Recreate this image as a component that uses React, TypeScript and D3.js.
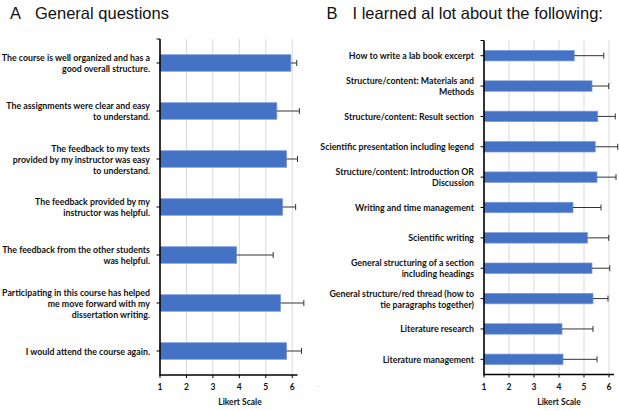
import React from "react";
import * as d3 from "d3";

// Panel A data
const categoriesA = [
  "The course is well organized and has a\ngood overall structure.",
  "The assignments were clear and easy\nto understand.",
  "The feedback to my texts\nprovided by my instructor was easy\nto understand.",
  "The feedback provided by my\ninstructor was helpful.",
  "The feedback from the other students\nwas helpful.",
  "Participating in this course has helped\nme move forward with my\ndissertation writing.",
  "I would attend the course again.",
];
const meansA = [5.95, 5.42, 5.79, 5.64, 3.9, 5.56, 5.79];
const sdA = [0.22, 0.85, 0.41, 0.49, 1.38, 0.88, 0.56];

// Panel B data
const categoriesB = [
  "How to write a lab book excerpt",
  "Structure/content: Materials and\nMethods",
  "Structure/content: Result section",
  "Scientific presentation including legend",
  "Structure/content: Introduction OR\nDiscussion",
  "Writing and time management",
  "Scientific writing",
  "General structuring of a section\nincluding headings",
  "General structure/red thread (how to\ntie paragraphs together)",
  "Literature research",
  "Literature management",
];
const meansB = [4.61, 5.32, 5.55, 5.45, 5.52, 4.56, 5.14, 5.32, 5.36, 4.12, 4.16];
const sdB = [1.18, 0.67, 0.7, 0.9, 0.76, 1.12, 0.85, 0.71, 0.6, 1.24, 1.36];

const xTicks = [1, 2, 3, 4, 5, 6];
const xDomain: [number, number] = [1, 6.2];
const titleA = "General questions";
const titleB = "I learned al lot about the following:";
const axisTitle = "Likert Scale";

const LABEL_FONT = "Lato, 'Open Sans', sans-serif";

type PanelProps = {
  cats: string[];
  means: number[];
  sds: number[];
  x0: number;
  x1: number;
  y0: number;
  y1: number;
  axisTitleX: number;
};

function Panel({ cats, means, sds, x0, x1, y0, y1, axisTitleX }: PanelProps) {
  const x = d3.scaleLinear().domain(xDomain).range([x0, x1]);
  const y = d3
    .scaleBand<number>()
    .domain(d3.range(cats.length))
    .range([y0, y1])
    .paddingInner(0.655)
    .paddingOuter(0.3275);
  const bw = y.bandwidth();
  const lineH = 11;
  return (
    <g>
      {xTicks.slice(1).map((t) => (
        <line key={"g" + t} x1={x(t)} x2={x(t)} y1={y0} y2={y1} stroke="#d9d9d9" strokeWidth={1} />
      ))}
      {cats.map((c, i) => {
        const cy = (y(i) as number) + bw / 2;
        const lines = c.split("\n");
        const start = cy - ((lines.length - 1) * lineH) / 2;
        return (
          <g key={"b" + i}>
            <rect
              x={x(1)}
              y={y(i)}
              width={x(means[i]) - x(1)}
              height={bw}
              fill="#4472C4"
              stroke="#7b9bd6"
              strokeWidth={0.7}
            />
            <line x1={x(means[i])} x2={x(means[i] + sds[i])} y1={cy} y2={cy} stroke="#333" strokeWidth={1} />
            <line
              x1={x(means[i] + sds[i])}
              x2={x(means[i] + sds[i])}
              y1={cy - 3}
              y2={cy + 3}
              stroke="#333"
              strokeWidth={1}
            />
            <line x1={x0 - 3.5} x2={x0} y1={cy} y2={cy} stroke="#000" strokeWidth={1} />
            <text
              x={x0 - 10}
              textAnchor="end"
              fontFamily={LABEL_FONT}
              fontWeight={700}
              fontSize={8.8}
              fill="#111"
            >
              {lines.map((l, j) => (
                <tspan key={j} x={x0 - 10} y={start + j * lineH} dominantBaseline="central">
                  {l}
                </tspan>
              ))}
            </text>
          </g>
        );
      })}
      <line x1={x0 - 3.5} x2={x0} y1={y0} y2={y0} stroke="#000" strokeWidth={1} />
      <line x1={x0} x2={x0} y1={y0} y2={y1 + 1} stroke="#000" strokeWidth={1.6} />
      <line x1={x0} x2={x1} y1={y1} y2={y1} stroke="#000" strokeWidth={1.6} />
      {xTicks.map((t) => (
        <g key={"t" + t}>
          <line x1={x(t)} x2={x(t)} y1={y1} y2={y1 + 3} stroke="#000" strokeWidth={1} />
          <text
            x={x(t)}
            y={y1 + 12}
            textAnchor="middle"
            dominantBaseline="central"
            fontFamily={LABEL_FONT}
            fontWeight={700}
            fontSize={8.5}
            fill="#111"
          >
            {t}
          </text>
        </g>
      ))}
      <text
        x={axisTitleX}
        y={y1 + 27}
        textAnchor="middle"
        dominantBaseline="central"
        fontFamily={LABEL_FONT}
        fontWeight={700}
        fontSize={8.5}
        fill="#111"
      >
        {axisTitle}
      </text>
    </g>
  );
}

export default function App() {
  return (
    <svg
      width={619}
      height={411}
      style={{ position: "absolute", left: 0, top: 0, background: "#fff" }}
    >
      <rect x={0} y={0} width={619} height={411} fill="#fff" />
      <text x={10} y={19} fontFamily="'Liberation Sans', Arial, sans-serif" fontSize={16.5} fill="#111">
        A
      </text>
      <text x={35} y={19} fontFamily="'Liberation Sans', Arial, sans-serif" fontSize={16.5} fill="#111">
        {titleA}
      </text>
      <text x={326.5} y={19} fontFamily="'Liberation Sans', Arial, sans-serif" fontSize={16.5} fill="#111">
        B
      </text>
      <text x={352.5} y={19} fontFamily="'Liberation Sans', Arial, sans-serif" fontSize={16.5} fill="#111">
        {titleB}
      </text>
      <Panel cats={categoriesA} means={meansA} sds={sdA} x0={160} x1={297.5} y0={39} y1={375} axisTitleX={240} />
      <Panel cats={categoriesB} means={meansB} sds={sdB} x0={484} x1={614} y0={40.5} y1={374.5} axisTitleX={559} />
      <text x={317} y={387} fontFamily="sans-serif" fontSize={7} fill="#888">
        .
      </text>
    </svg>
  );
}
